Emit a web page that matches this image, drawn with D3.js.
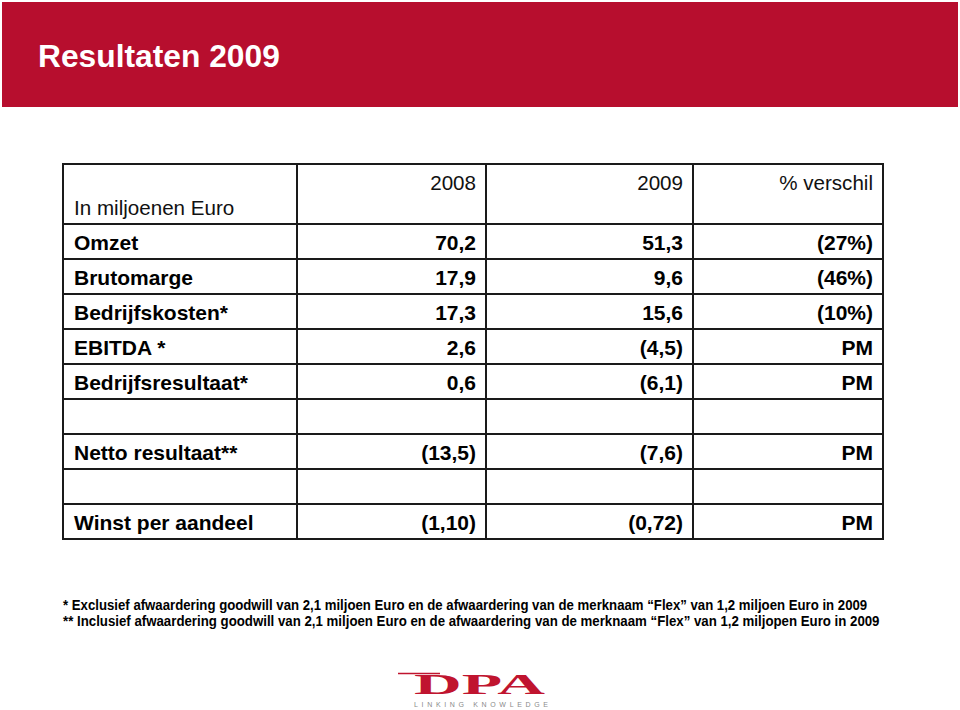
<!DOCTYPE html>
<html><head><meta charset="utf-8">
<script src="https://cdn.jsdelivr.net/npm/d3@7"></script>
<style>body{margin:0;background:#fff;}svg{display:block;}</style>
</head><body>
<script>
const title = "Resultaten 2009";
const unitLabel = "In miljoenen Euro";
const columnHeaders = ["2008", "2009", "% verschil"];
const rowLabels = ["Omzet", "Brutomarge", "Bedrijfskosten*", "EBITDA *", "Bedrijfsresultaat*", "", "Netto resultaat**", "", "Winst per aandeel"];
const values2008 = ["70,2", "17,9", "17,3", "2,6", "0,6", "", "(13,5)", "", "(1,10)"];
const values2009 = ["51,3", "9,6", "15,6", "(4,5)", "(6,1)", "", "(7,6)", "", "(0,72)"];
const pctChange = ["(27%)", "(46%)", "(10%)", "PM", "PM", "", "PM", "", "PM"];
const footnotes = [
  "* Exclusief afwaardering goodwill van 2,1 miljoen Euro en de afwaardering van de merknaam \u201cFlex\u201d van 1,2 miljoen Euro in 2009",
  "** Inclusief afwaardering goodwill van 2,1 miljoen Euro en de afwaardering van de merknaam \u201cFlex\u201d van 1,2 miljopen Euro in 2009"
];
const logoText = "DPA";
const logoSub = "LINKING KNOWLEDGE";

const W = 960, H = 710;
const svg = d3.select("body").append("svg").attr("width", W).attr("height", H);
const font = "'Liberation Sans', Arial, Helvetica, sans-serif";

// banner
svg.append("rect").attr("x", 2).attr("y", 2).attr("width", 956).attr("height", 105).attr("fill", "#b70e2e");
const t = svg.append("text").attr("x", 38).attr("y", 67).attr("fill", "#fff")
  .attr("font-family", font).attr("font-weight", "bold").attr("font-size", 32).text(title);
const tw = t.node().getComputedTextLength();
t.attr("transform", `translate(38,0) scale(${242 / tw},1) translate(-38,0)`);

// table
const cols = [63, 297, 486, 693, 883];
const headerTop = 164, bodyTop = 224, rowH = 35;
const y = d3.scaleBand().domain(d3.range(rowLabels.length)).range([bodyTop, bodyTop + rowH * rowLabels.length]).padding(0);
const tableBottom = y.range()[1];
const g = svg.append("g").attr("font-family", font).attr("fill", "#000");

const lineColor = "#1a1a1a", lw = 2;
const hLines = [headerTop, ...d3.range(rowLabels.length).map(i => y(i)), tableBottom];
g.selectAll("line.h").data(hLines).join("line").attr("class", "h")
  .attr("x1", cols[0]).attr("x2", cols[4]).attr("y1", d => d).attr("y2", d => d)
  .attr("stroke", lineColor).attr("stroke-width", lw);
g.selectAll("line.v").data(cols).join("line").attr("class", "v")
  .attr("x1", d => d).attr("x2", d => d).attr("y1", headerTop - 1).attr("y2", tableBottom + 1)
  .attr("stroke", lineColor).attr("stroke-width", lw);

// header
g.append("text").attr("x", cols[0] + 11).attr("y", 215).attr("font-size", 20.6).attr("fill", "#111").text(unitLabel);
g.selectAll("text.ch").data(columnHeaders).join("text").attr("class", "ch")
  .attr("x", (d, i) => cols[i + 2] - 10).attr("y", 190).attr("text-anchor", "end")
  .attr("font-size", 20.6).attr("fill", "#111").text(d => d);

// body
const bodyCols = [values2008, values2009, pctChange];
rowLabels.forEach((lab, i) => {
  const by = y(i) + y.bandwidth() / 2 + 8;
  g.append("text").attr("x", cols[0] + 11).attr("y", by).attr("font-size", 21).attr("font-weight", "bold").text(lab);
  bodyCols.forEach((arr, j) => {
    g.append("text").attr("x", cols[j + 2] - 10).attr("y", by).attr("text-anchor", "end")
      .attr("font-size", 21).attr("font-weight", "bold").text(arr[i]);
  });
});

// footnotes
const fnWidths = [805, 817];
footnotes.forEach((f, i) => {
  const ft = svg.append("text").attr("x", 63).attr("y", 610 + i * 16).attr("font-family", font)
    .attr("font-weight", "bold").attr("font-size", 14).attr("fill", "#000").text(f);
  const w = ft.node().getComputedTextLength();
  ft.attr("transform", `translate(63,0) scale(${fnWidths[i] / w},1) translate(-63,0)`);
});

// logo
svg.append("line").attr("x1", 398).attr("x2", 440).attr("y1", 673.5).attr("y2", 673.5).attr("stroke", "#c0142f").attr("stroke-width", 1.5);
const lt = svg.append("text").attr("x", 414).attr("y", 694).attr("font-family", "'Liberation Serif', 'DejaVu Serif', serif")
  .attr("font-weight", "bold").attr("font-size", 25).attr("fill", "#c0142f").text(logoText);
const lw2 = lt.node().getComputedTextLength();
lt.attr("transform", `translate(414,694) scale(${131 / lw2},1.2) translate(-414,-694)`);
svg.append("text").attr("x", 414).attr("y", 707).attr("font-family", font).attr("font-size", 7)
  .attr("fill", "#8a8a8a").attr("textLength", 134).attr("lengthAdjust", "spacing").text(logoSub);
</script>
</body></html>
